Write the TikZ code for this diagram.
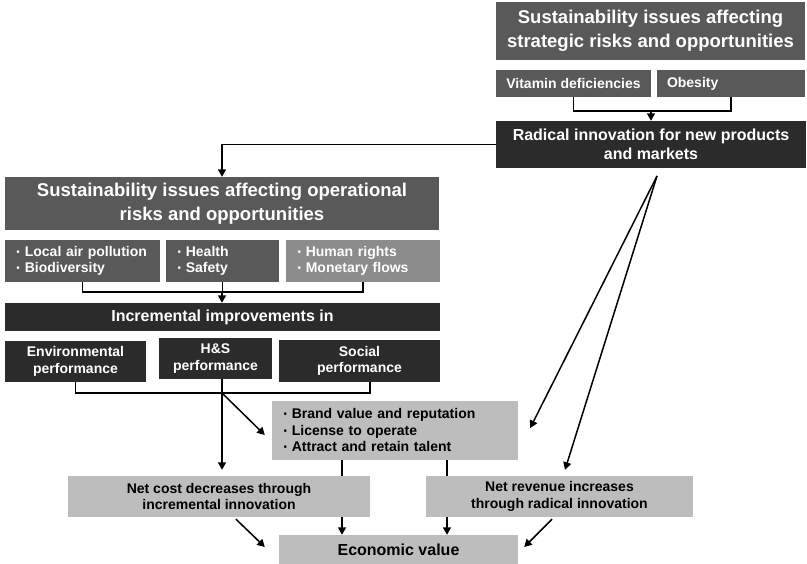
\documentclass[tikz,border=0pt]{standalone}
\usepackage{fontspec}
\setmainfont{Liberation Sans}
\usetikzlibrary{arrows.meta,calc}
\pgfdeclarelayer{back}
\pgfsetlayers{back,main}
\definecolor{midgray}{HTML}{595959}
\definecolor{darkgray}{HTML}{2B2B2B}
\definecolor{softgray}{HTML}{8C8C8C}
\definecolor{palegray}{HTML}{BDBDBD}
\newcommand{\bul}{\hspace{1pt}\raisebox{-1pt}{\fontsize{16}{16}\selectfont ·}\hspace{3.5pt}}

\tikzset{
  box/.style={rectangle, inner sep=0pt, font=\bfseries, text=white, align=center},
  midbox/.style={box, fill=midgray},
  darkbox/.style={box, fill=darkgray},
  softbox/.style={box, fill=softgray},
  palebox/.style={box, fill=palegray, text=black},
  sz/.style 2 args={minimum width=#1pt, minimum height=#2pt},
  lefttext/.style={align=left, text width=#1pt, inner xsep=10pt},
  conn/.style={line width=1.5pt},
  arr/.style={conn, -{Triangle[length=7.5pt,width=8pt]}},
  hugetxt/.style={font=\bfseries\fontsize{18.5}{24}\selectfont},
  bigtxt/.style={font=\bfseries\fontsize{16}{19}\selectfont},
  normtxt/.style={font=\bfseries\fontsize{14}{16.7}\selectfont},
}

\begin{document}
\begin{tikzpicture}[x=1pt,y=-1pt]
\useasboundingbox (0,0) rectangle (807,564);

% strategic branch
\node[midbox,hugetxt,sz={309}{58}] (strat) at (650.5,31)
  {Sustainability issues affecting\\strategic risks and opportunities};
\node[midbox,normtxt,sz={155}{27}] (vit) at (573.5,83.5) {Vitamin deficiencies};
\node[midbox,normtxt,sz={148}{27},lefttext=128] (obe) at (731,83.5) {Obesity};
\node[darkbox,bigtxt,sz={310}{47}] (rad) at (651,144.5)
  {Radical innovation for new products\\and markets};

% operational branch
\node[midbox,hugetxt,sz={434}{53}] (oper) at (222,203.5)
  {Sustainability issues affecting operational\\risks and opportunities};
\node[midbox,normtxt,sz={155}{42},lefttext=135] (air) at (82.5,261)
  {\bul Local air pollution\\\bul Biodiversity};
\node[midbox,normtxt,sz={113}{42},lefttext=93] (hlth) at (222.5,261)
  {\bul Health\\\bul Safety};
\node[softbox,normtxt,sz={154}{42},lefttext=134] (rights) at (363,261)
  {\bul Human rights\\\bul Monetary flows};
\node[darkbox,bigtxt,sz={435}{28}] (incr) at (222.5,317) {Incremental improvements in};
\node[darkbox,normtxt,sz={141}{41}] (env) at (75.5,361.5) {Environmental\\performance};
\node[darkbox,normtxt,sz={113}{41}] (hs) at (215.5,358.5) {H\&S\\performance};
\node[darkbox,normtxt,sz={161}{42}] (soc) at (359.5,361) {Social\\performance};

% value boxes
\node[palebox,normtxt,sz={246}{59},lefttext=226] (brand) at (395,430.5)
  {\bul Brand value and reputation\\\bul License to operate\\\bul Attract and retain talent};
\node[palebox,normtxt,sz={302}{41}] (cost) at (219,496.5)
  {Net cost decreases through\\incremental innovation};
\node[palebox,normtxt,sz={267}{41}] (rev) at (559.5,496.5)
  {Net revenue increases\\through radical innovation};
\node[palebox,bigtxt,sz={239}{29}] (econ) at (398.5,549.5) {Economic value};

% junction points
\coordinate (j1) at (651,111);
\coordinate (j2) at (222,292);
\coordinate (j3) at (222,393);
\coordinate (fan) at (657,176);
\coordinate (b1) at ($(brand.south)+(-53,0)$);
\coordinate (b2) at ($(brand.south)+(52,0)$);

% connectors
\draw[conn] (vit.south) |- (j1) -| (obe.south);
\draw[arr] (j1) -- (rad.north);
\draw[arr] (rad.west) -| (oper.north);

\draw[conn] (air.south) |- (j2) -| (rights.south);
\draw[conn] (hlth.south) -- (hlth.south |- j2);
\draw[arr] (j2) -- (j2 |- incr.north);

\draw[conn] (env.south) |- (j3) -| (soc.south -| cost.east);
\draw[conn] (hs.south -| j3) -- (j3);
\draw[arr, shorten >=6pt] (j3) -- (j3 |- cost.north);
\draw[arr] (j3) -- ($(brand.west)+(-7,4.5)$);

\draw[arr] (fan) -- ($(brand.east)+(12,-2.5)$);
\draw[arr] (fan) -- ($(rev.north)+(5.5,-6)$);

\draw[arr] ($(cost.south)+(17,2)$) -- ($(econ.west)+(-14,-2.5)$);
\draw[arr] ($(rev.south)+(-7.5,2)$) -- ($(econ.east)+(6,-2.5)$);

\begin{pgfonlayer}{back}
  \draw[arr] (b1) -- (b1 |- econ.north);
  \draw[arr] (b2) -- (b2 |- econ.north);
\end{pgfonlayer}
\end{tikzpicture}
\end{document}
